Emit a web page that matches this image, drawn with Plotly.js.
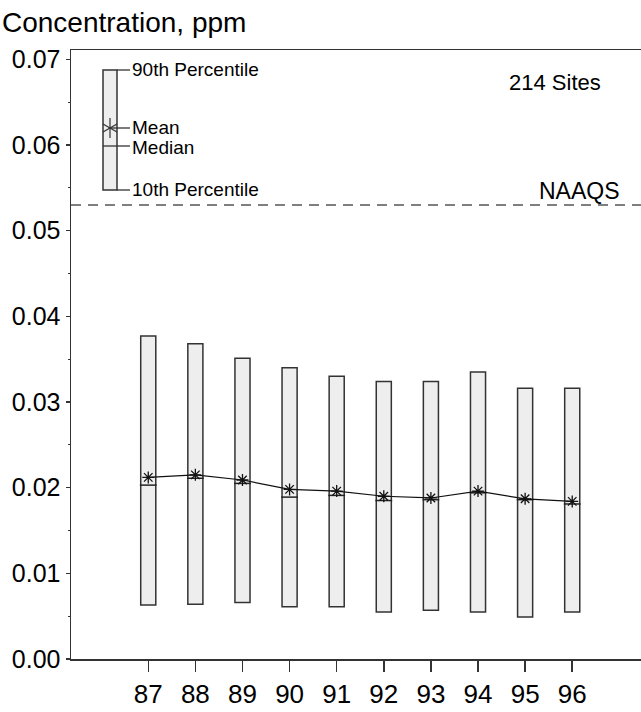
<!DOCTYPE html>
<html>
<head>
<meta charset="utf-8">
<script src="https://cdn.plot.ly/plotly-3.0.1.min.js"></script>
<style>
  html, body { margin: 0; padding: 0; background: #ffffff; }
  #chart { width: 641px; height: 712px; }
</style>
</head>
<body>
<div id="chart"></div>
<script>
// Annual NO2 concentrations across 214 sites, 1987-1996 (ppm)
const years = [87, 88, 89, 90, 91, 92, 93, 94, 95, 96];
const yearLabels = ['87', '88', '89', '90', '91', '92', '93', '94', '95', '96'];
const pct90 = [0.0377, 0.0368, 0.0351, 0.0340, 0.0330, 0.0324, 0.0324, 0.0335, 0.0316, 0.0316];
const pct10 = [0.0063, 0.0064, 0.0066, 0.0061, 0.0061, 0.0055, 0.0057, 0.0055, 0.0049, 0.0055];
const medians = [0.0203, 0.0211, 0.0205, 0.0189, 0.0191, 0.0185, 0.0186, 0.0194, 0.0186, 0.0181];
const means = [0.0212, 0.0215, 0.0209, 0.0198, 0.0196, 0.0190, 0.0188, 0.0196, 0.0187, 0.0184];
const naaqs = 0.053;

const FONT = '"Liberation Sans", Arial, Helvetica, sans-serif';
const AXIS = '#333333';

// plot-area geometry in pixels
const W = 641, H = 712;
const L = 71, R = 0, T = 50, B = 53;
const plotW = W - L - R, plotH = H - T - B;
const px = x => (x - L) / plotW;          // pixel x -> paper x
const py = y => (H - B - y) / plotH;      // pixel y -> paper y

const boxTraces = {
  type: 'bar',
  x: years,
  base: pct10,
  y: pct90.map((v, i) => v - pct10[i]),
  width: 0.32,
  marker: { color: '#eeeeee', line: { color: AXIS, width: 1.5 } },
  hoverinfo: 'skip'
};

const medianTrace = {
  type: 'scatter',
  mode: 'markers',
  x: years,
  y: medians,
  marker: { symbol: 'line-ew-open', size: 12, color: '#222222',
            line: { color: '#222222', width: 1.5 } },
  hoverinfo: 'skip'
};

const meanTrace = {
  type: 'scatter',
  mode: 'lines+markers',
  x: years,
  y: means,
  line: { color: '#111111', width: 1.2 },
  marker: { symbol: 'asterisk-open', size: 10, color: '#111111',
            line: { color: '#111111', width: 1.3 } },
  hoverinfo: 'skip'
};

// key explaining the box symbols, drawn in pixel positions
function seg(x0, y0, x1, y1, w) {
  return { type: 'line', xref: 'paper', yref: 'paper',
           x0: px(x0), y0: py(y0), x1: px(x1), y1: py(y1),
           line: { color: AXIS, width: w || 1.3 } };
}
const keyShapes = [
  { type: 'rect', xref: 'paper', yref: 'paper',
    x0: px(103), x1: px(117), y0: py(190), y1: py(70),
    fillcolor: '#eeeeee', line: { color: AXIS, width: 1.5 } },
  seg(117, 70, 130, 70),
  seg(110, 128, 130, 128),
  seg(103, 146, 130, 146),
  seg(117, 190, 130, 190),
  seg(110, 118, 110, 138, 1.2),
  seg(103, 124, 117, 132, 1.2),
  seg(103, 132, 117, 124, 1.2)
];

const naaqsLine = {
  type: 'line', xref: 'paper', yref: 'y',
  x0: 0, x1: 1, y0: naaqs, y1: naaqs,
  line: { color: '#555555', width: 1.5, dash: '10px,7px' }
};

function label(text, x, y, size, anchor) {
  return { text: text, xref: 'paper', yref: 'paper', x: px(x), y: py(y),
           xanchor: anchor || 'left', yanchor: 'middle', showarrow: false,
           font: { family: FONT, size: size, color: '#000000' } };
}

const annotations = [
  label('Concentration, ppm', 0, 23, 28),
  label('90th Percentile', 130, 70, 19),
  label('Mean', 130, 128, 19),
  label('Median', 130, 147, 19),
  label('10th Percentile', 130, 189, 19),
  label('214 Sites', 555, 82, 22, 'center'),
  label('NAAQS', 579, 191, 23, 'center')
];

const layout = {
  width: W, height: H,
  margin: { l: L, r: R, t: T, b: B, pad: 0 },
  paper_bgcolor: '#ffffff',
  plot_bgcolor: '#ffffff',
  showlegend: false,
  font: { family: FONT, color: '#000000' },
  xaxis: {
    range: [85.36, 97.46],
    tickvals: years,
    ticktext: yearLabels,
    ticks: 'outside', ticklen: 11, tickwidth: 1.5, tickcolor: AXIS,
    showline: true, linecolor: AXIS, linewidth: 1.5, mirror: true,
    showgrid: false, zeroline: false,
    tickfont: { family: FONT, size: 26, color: '#000000' }
  },
  yaxis: {
    range: [0, 0.0711],
    tickvals: [0, 0.01, 0.02, 0.03, 0.04, 0.05, 0.06, 0.07],
    tickformat: '.2f',
    ticks: 'outside', ticklen: 4, tickwidth: 1.3, tickcolor: AXIS,
    minor: { dtick: 0.005, tick0: 0, ticks: 'outside', ticklen: 2, tickwidth: 1, tickcolor: AXIS },
    showline: true, linecolor: AXIS, linewidth: 1.5,
    showgrid: false, zeroline: false,
    tickfont: { family: FONT, size: 25, color: '#000000' }
  },
  shapes: [naaqsLine].concat(keyShapes),
  annotations: annotations,
  bargap: 0
};

Plotly.newPlot('chart', [boxTraces, medianTrace, meanTrace], layout, { staticPlot: true, displayModeBar: false });
</script>
</body>
</html>
